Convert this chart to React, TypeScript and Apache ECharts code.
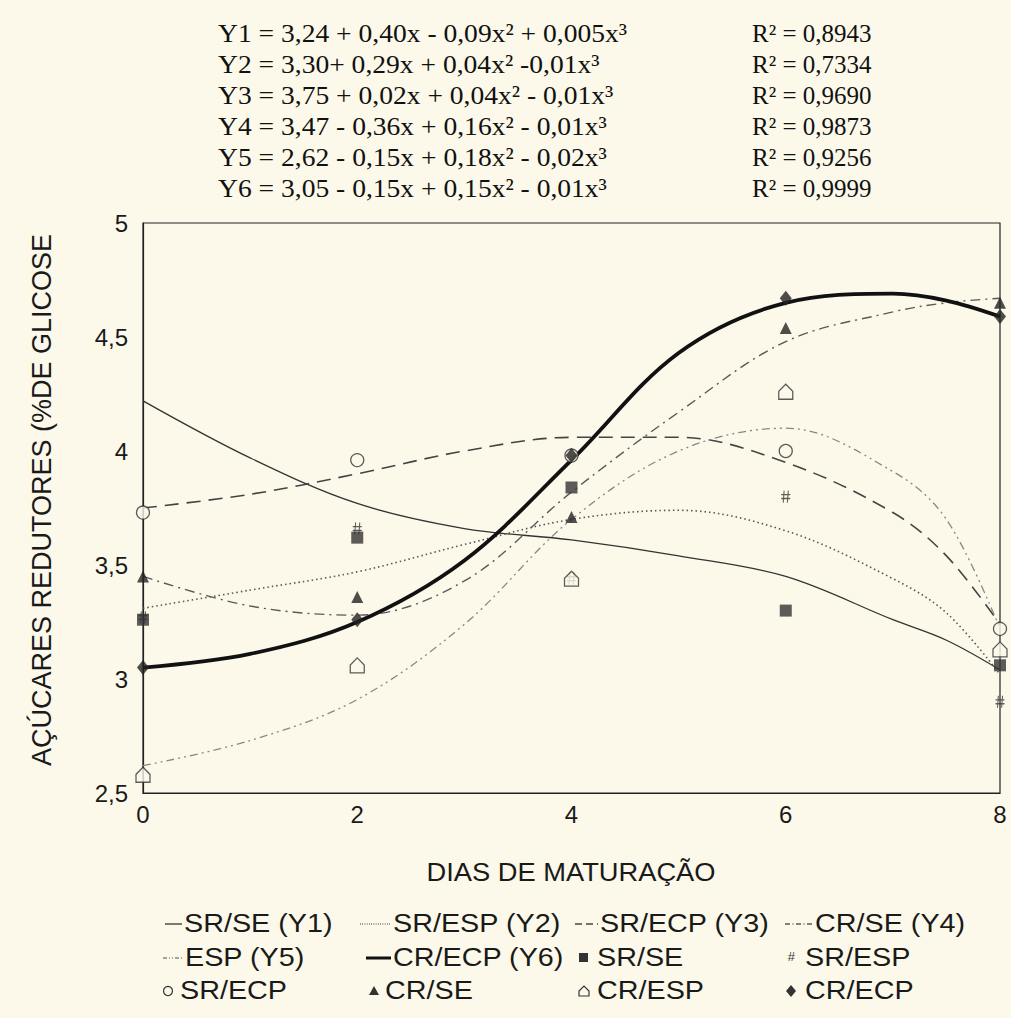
import React, { useEffect, useRef } from "react";
import * as echarts from "echarts";

// ---- data ----
const days = [0, 2, 4, 6, 8];
const srSe = [3.26, 3.62, 3.84, 3.3, 3.06];
const srEsp = [3.27, 3.66, 3.44, 3.8, 2.9];
const srEcp = [3.73, 3.96, 3.98, 4.0, 3.22];
const crSe = [3.45, 3.36, 3.71, 4.54, 4.65];
const crEsp = [2.58, 3.06, 3.44, 4.26, 3.13];
const crEcp = [3.05, 3.26, 3.98, 4.67, 4.59];

const curveX = [0, 1, 2, 3, 4, 5, 6, 7, 7.5, 8];
const y1 = [4.22, 3.97, 3.77, 3.66, 3.61, 3.54, 3.45, 3.26, 3.17, 3.04];
const y2 = [3.31, 3.39, 3.47, 3.59, 3.7, 3.74, 3.65, 3.44, 3.29, 3.02];
const y3 = [3.75, 3.81, 3.9, 4.0, 4.06, 4.06, 3.95, 3.73, 3.54, 3.24];
const y4 = [3.45, 3.32, 3.28, 3.43, 3.82, 4.17, 4.48, 4.61, 4.65, 4.67];
const y5 = [2.62, 2.73, 2.91, 3.24, 3.7, 4.0, 4.1, 3.91, 3.7, 3.22];
const y6 = [3.05, 3.11, 3.25, 3.52, 3.96, 4.43, 4.65, 4.69, 4.66, 4.59];

const equations = [
  "Y1 = 3,24 + 0,40x - 0,09x² + 0,005x³",
  "Y2 = 3,30+ 0,29x + 0,04x² -0,01x³",
  "Y3 = 3,75 + 0,02x + 0,04x² - 0,01x³",
  "Y4 = 3,47 - 0,36x + 0,16x² - 0,01x³",
  "Y5 = 2,62 - 0,15x + 0,18x² - 0,02x³",
  "Y6 = 3,05 - 0,15x + 0,15x² - 0,01x³",
];
const r2 = ["R² = 0,8943", "R² = 0,7334", "R² = 0,9690", "R² = 0,9873", "R² = 0,9256", "R² = 0,9999"];

const yAxisTitle = "AÇÚCARES REDUTORES (%DE GLICOSE";
const xAxisTitle = "DIAS DE MATURAÇÃO";

const BG = "#fcf9ea";
const INK = "#222";
const SANS = "'Liberation Sans', Arial, sans-serif";
const SERIF = "'Liberation Serif', 'Times New Roman', serif";

const HASH = "path://M3.2,0 L2.2,10 M7.8,0 L6.8,10 M0,3.4 L10,3.4 M0,6.6 L10,6.6";
const HOUSE = "path://M0,11 L0,5.5 L5,0.5 L10,5.5 L10,11 Z";

const lineStyles: Record<string, any> = {
  y1: { color: "#333", width: 1.3, type: "solid" },
  y2: { color: "#555", width: 1.6, type: [1.5, 3] },
  y3: { color: "#444", width: 1.6, type: [14, 8] },
  y4: { color: "#5a5a5a", width: 1.4, type: [10, 5, 2, 5] },
  y5: { color: "#888", width: 1.3, type: [8, 4, 2, 4, 2, 4] },
  y6: { color: "#111", width: 3.8, type: "solid" },
};

function curve(name: string, ys: number[], key: string) {
  return {
    name,
    type: "line",
    data: curveX.map((x, i) => [x, ys[i]]),
    smooth: 0.35,
    showSymbol: false,
    silent: true,
    z: key === "y6" ? 4 : 3,
    lineStyle: lineStyles[key],
  };
}

function pts(name: string, ys: number[], symbol: string, size: any, style: any) {
  return {
    name,
    type: "scatter",
    data: days.map((d, i) => [d, ys[i]]),
    symbol,
    symbolSize: size,
    z: 6,
    itemStyle: style,
  };
}

export default function App() {
  const ref = useRef<HTMLDivElement>(null);
  useEffect(() => {
    document.body.style.margin = "0";
    document.body.style.background = BG;
    const chart = echarts.init(ref.current!, undefined, { renderer: "svg" });

    const graphics: any[] = [];
    equations.forEach((t, i) => {
      graphics.push({
        type: "text",
        x: 218,
        y: 33 + i * 31,
        scaleX: 1.06,
        style: { text: t, font: `26px ${SERIF}`, fill: "#111", verticalAlign: "middle" },
      });
      graphics.push({
        type: "text",
        x: 752,
        y: 33 + i * 31,
        style: { text: r2[i], font: `25px ${SERIF}`, fill: "#111", verticalAlign: "middle" },
      });
    });
    graphics.push({
      type: "text",
      x: 42,
      y: 500,
      rotation: Math.PI / 2,
      style: { text: yAxisTitle, font: `27px ${SANS}`, fill: "#1a1a1a", align: "center", verticalAlign: "middle" },
    });
    graphics.push({
      type: "text",
      x: 571,
      y: 872,
      scaleX: 1.05,
      style: { text: xAxisTitle, font: `26px ${SANS}`, fill: "#1a1a1a", align: "center", verticalAlign: "middle" },
    });

    const rows = [924, 958, 991];
    const legText = (x: number, y: number, t: string) =>
      graphics.push({
        type: "text",
        x,
        y,
        scaleX: 1.15,
        style: { text: t, font: `25px ${SANS}`, fill: "#1a1a1a", verticalAlign: "middle" },
      });
    const legLine = (x1: number, x2: number, y: number, key: string) => {
      const ls = lineStyles[key];
      graphics.push({
        type: "line",
        shape: { x1, y1: y, x2, y2: y },
        style: {
          stroke: ls.color,
          lineWidth: key === "y6" ? 3 : ls.width,
          lineDash: Array.isArray(ls.type) ? ls.type.map((v: number) => v * 0.5) : null,
        },
      });
    };
    // row 1
    legLine(165, 182, rows[0], "y1");
    legText(184, rows[0], "SR/SE (Y1)");
    legLine(360, 390, rows[0], "y2");
    legText(393, rows[0], "SR/ESP (Y2)");
    legLine(575, 598, rows[0], "y3");
    legText(600, rows[0], "SR/ECP (Y3)");
    legLine(785, 812, rows[0], "y4");
    legText(815, rows[0], "CR/SE (Y4)");
    // row 2
    legLine(163, 183, rows[1], "y5");
    legText(185, rows[1], "ESP (Y5)");
    legLine(366, 391, rows[1], "y6");
    legText(393, rows[1], "CR/ECP (Y6)");
    graphics.push({ type: "rect", shape: { x: 579, y: rows[1] - 5, width: 9, height: 9 }, style: { fill: "#333" } });
    legText(597, rows[1], "SR/SE");
    graphics.push({ type: "text", x: 791, y: rows[1] - 2, style: { text: "#", font: `italic 13px ${SANS}`, fill: "#333", align: "center", verticalAlign: "middle" } });
    legText(805, rows[1], "SR/ESP");
    // row 3
    graphics.push({ type: "circle", shape: { cx: 168, cy: rows[2], r: 4.5 }, style: { fill: "none", stroke: "#333", lineWidth: 1.2 } });
    legText(180, rows[2], "SR/ECP");
    graphics.push({ type: "polygon", shape: { points: [[369, rows[2] + 4], [374, rows[2] - 5], [379, rows[2] + 4]] }, style: { fill: "#333" } });
    legText(385, rows[2], "CR/SE");
    graphics.push({
      type: "polygon",
      shape: { points: [[579, rows[2] + 5], [579, rows[2]], [584, rows[2] - 5], [589, rows[2]], [589, rows[2] + 5]] },
      style: { fill: "none", stroke: "#333", lineWidth: 1.2 },
    });
    legText(597, rows[2], "CR/ESP");
    graphics.push({
      type: "polygon",
      shape: { points: [[791, rows[2] - 6], [796, rows[2]], [791, rows[2] + 6], [786, rows[2]]] },
      style: { fill: "#333" },
    });
    legText(805, rows[2], "CR/ECP");

    const option: any = {
      animation: false,
      backgroundColor: BG,
      grid: { left: 143, right: 11, top: 223, bottom: 225, show: true, borderColor: INK, borderWidth: 1.2 },
      xAxis: {
        type: "value",
        min: 0,
        max: 8,
        interval: 2,
        axisLine: { show: true, onZero: false, lineStyle: { color: INK, width: 1.2 } },
        axisTick: { show: false },
        splitLine: { show: false },
        axisLabel: { color: "#1a1a1a", fontSize: 24, fontFamily: SANS, margin: 9 },
      },
      yAxis: {
        type: "value",
        min: 2.5,
        max: 5,
        interval: 0.5,
        axisLine: { show: true, onZero: false, lineStyle: { color: INK, width: 1.2 } },
        axisTick: { show: false },
        splitLine: { show: false },
        axisLabel: {
          color: "#1a1a1a",
          fontSize: 24,
          fontFamily: SANS,
          margin: 15,
          formatter: (v: number) => String(v).replace(".", ","),
        },
      },
      graphic: graphics,
      series: [
        curve("SR/SE (Y1)", y1, "y1"),
        curve("SR/ESP (Y2)", y2, "y2"),
        curve("SR/ECP (Y3)", y3, "y3"),
        curve("CR/SE (Y4)", y4, "y4"),
        curve("ESP (Y5)", y5, "y5"),
        curve("CR/ECP (Y6)", y6, "y6"),
        pts("SR/SE", srSe, "rect", 12, { color: "#333" }),
        pts("SR/ESP", srEsp, HASH, [9, 12], { color: "rgba(0,0,0,0)", borderColor: "#333", borderWidth: 1.2 }),
        pts("SR/ECP", srEcp, "circle", 13, { color: BG, borderColor: "#333", borderWidth: 1.3 }),
        pts("CR/SE", crSe, "triangle", 12, { color: "#222" }),
        pts("CR/ESP", crEsp, HOUSE, [14, 15], { color: BG, borderColor: "#333", borderWidth: 1.3 }),
        pts("CR/ECP", crEcp, "diamond", [12, 15], { color: "#222" }),
      ],
    };
    chart.setOption(option);
    return () => chart.dispose();
  }, []);
  return (
    <div
      ref={ref}
      style={{ position: "absolute", left: 0, top: 0, width: 1011, height: 1018, background: BG }}
    />
  );
}
